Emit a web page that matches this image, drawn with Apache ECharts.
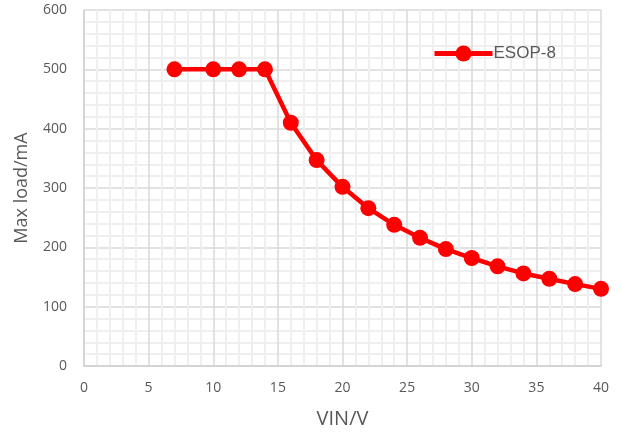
<!DOCTYPE html>
<html><head><meta charset="utf-8">
<script src="https://cdn.jsdelivr.net/npm/echarts@6/dist/echarts.min.js"></script>
<style>html,body{margin:0;padding:0;background:#fff}#c{width:621px;height:435px}</style>
</head><body><div id="c"></div>
<script>
const vin = [7, 10, 12, 14, 16, 18, 20, 22, 24, 26, 28, 30, 32, 34, 36, 38, 40];
const maxLoad = [500, 500, 500, 500, 410, 347, 302, 266, 238, 216, 197, 182, 168, 156, 147, 138, 130];
const seriesName = 'ESOP-8';
const xTitle = 'VIN/V';
const yTitle = 'Max load/mA';

const chart = echarts.init(document.getElementById('c'));
const font = 'Open Sans, Liberation Sans, sans-serif';
chart.setOption({
  animation: false,
  grid: { left: 84, right: 20, top: 10, bottom: 69 },
  legend: {
    data: [{ name: seriesName, itemStyle: { color: '#ff0000' }, lineStyle: { width: 5 } }],
    top: 40, left: 427,
    itemWidth: 58, itemHeight: 20, itemGap: 4,
    textStyle: { color: '#595959', fontSize: 17, fontFamily: 'Liberation Sans, Arial, sans-serif', padding: [0, 0, 0, -4] }
  },
  xAxis: {
    type: 'value', min: 0, max: 40, interval: 5,
    name: xTitle, nameLocation: 'middle', nameGap: 43,
    nameTextStyle: { color: '#595959', fontSize: 20, fontFamily: font },
    axisLine: { show: true, lineStyle: { color: '#d0d0d0', width: 1.5 } },
    axisTick: { show: false },
    axisLabel: { color: '#595959', fontSize: 14, fontFamily: font, margin: 15 },
    splitLine: { show: true, lineStyle: { color: '#d9d9d9', width: 1.5 } },
    minorTick: { show: false, splitNumber: 5 },
    minorSplitLine: { show: true, lineStyle: { color: '#efefef', width: 2 } }
  },
  yAxis: {
    type: 'value', min: 0, max: 600, interval: 100,
    name: yTitle, nameLocation: 'middle', nameGap: 53,
    nameTextStyle: { color: '#595959', fontSize: 18, fontFamily: font },
    axisLine: { show: true, lineStyle: { color: '#d0d0d0', width: 1.5 } },
    axisTick: { show: false },
    axisLabel: { color: '#595959', fontSize: 14, fontFamily: font, margin: 17 },
    splitLine: { show: true, lineStyle: { color: '#d9d9d9', width: 1.5 } },
    minorTick: { show: false, splitNumber: 5 },
    minorSplitLine: { show: true, lineStyle: { color: '#efefef', width: 2 } }
  },
  series: [{
    name: seriesName, type: 'line',
    data: vin.map((v, i) => [v, maxLoad[i]]),
    symbol: 'circle', symbolSize: 16,
    lineStyle: { color: '#ff0000', width: 4.5 },
    itemStyle: { color: '#ff0000' }
  }]
});
</script></body></html>
